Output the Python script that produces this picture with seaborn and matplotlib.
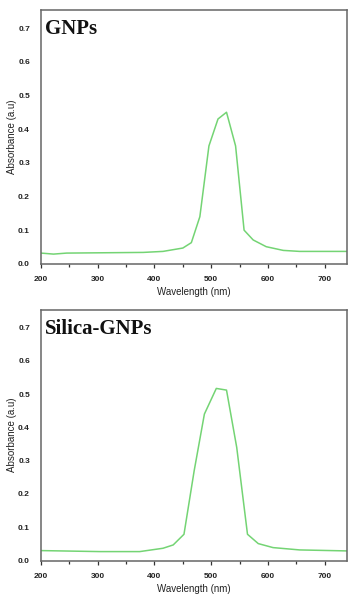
import matplotlib
matplotlib.use("Agg")
import matplotlib.pyplot as plt
import seaborn as sns
import pandas as pd
from matplotlib.ticker import MultipleLocator

sns.set_theme(style="white")
plt.rcParams['font.family'] = ['Liberation Sans', 'DejaVu Sans']

# GNPs spectrum
gnp_wl = [200, 222, 245, 380, 415, 450, 465, 480, 496, 512, 527, 543, 558, 574, 597, 627, 656, 740]
gnp_abs = [0.032, 0.029, 0.032, 0.034, 0.037, 0.047, 0.063, 0.14, 0.35, 0.43, 0.45, 0.35, 0.10, 0.071, 0.051, 0.040, 0.037, 0.037]

# Silica-GNPs spectrum
sil_wl = [200, 304, 374, 415, 433, 452, 470, 488, 509, 527, 545, 564, 583, 609, 656, 740]
sil_abs = [0.030, 0.027, 0.027, 0.037, 0.047, 0.079, 0.27, 0.44, 0.517, 0.512, 0.34, 0.079, 0.051, 0.039, 0.032, 0.029]

titles = ["GNPs", "Silica-GNPs"]
x_ticks = [200, 300, 400, 500, 600, 700]
y_ticks = [0.0, 0.1, 0.2, 0.3, 0.4, 0.5, 0.6, 0.7]

fig = plt.figure(figsize=(3.48, 5.97), dpi=100)
ax1 = fig.add_axes([0.118, 0.558, 0.880, 0.425])
ax2 = fig.add_axes([0.118, 0.061, 0.880, 0.420])

line_color = "#74d474"
for ax, wl, ab, title in [(ax1, gnp_wl, gnp_abs, titles[0]), (ax2, sil_wl, sil_abs, titles[1])]:
    df = pd.DataFrame({"wl": wl, "abs": ab})
    sns.lineplot(data=df, x="wl", y="abs", ax=ax, color=line_color, linewidth=1.1)
    ax.set_xlim(200, 740)
    ax.set_ylim(0, 0.753)
    ax.set_xticks(x_ticks)
    ax.set_yticks(y_ticks)
    ax.set_yticklabels([f"{v:.1f}" for v in y_ticks])
    ax.xaxis.set_minor_locator(MultipleLocator(50))
    ax.tick_params(axis="x", which="major", direction="out", length=3, width=0.9,
                   labelsize=6, colors="#333333", labelcolor="#222222", pad=6, bottom=True)
    ax.tick_params(axis="x", which="minor", direction="out", length=2, width=0.9,
                   colors="#333333", bottom=True)
    ax.tick_params(axis="y", which="major", length=0, labelsize=6,
                   labelcolor="#222222", pad=8, left=True)
    for lab in ax.get_xticklabels() + ax.get_yticklabels():
        lab.set_fontweight("bold")
    for s in ax.spines.values():
        s.set_color("#666666")
        s.set_linewidth(1.1)
    ax.set_xlabel("Wavelength (nm)", fontsize=7, color="#222222", labelpad=2.5)
    ax.set_ylabel("Absorbance (a.u)", fontsize=7, color="#222222", labelpad=1)
    ax.text(0.014, 0.965, title, transform=ax.transAxes, ha="left", va="top",
            fontsize=15, fontweight="bold", family=["Liberation Serif", "DejaVu Serif"], color="#111111")

fig.savefig("out.png", dpi=100)
